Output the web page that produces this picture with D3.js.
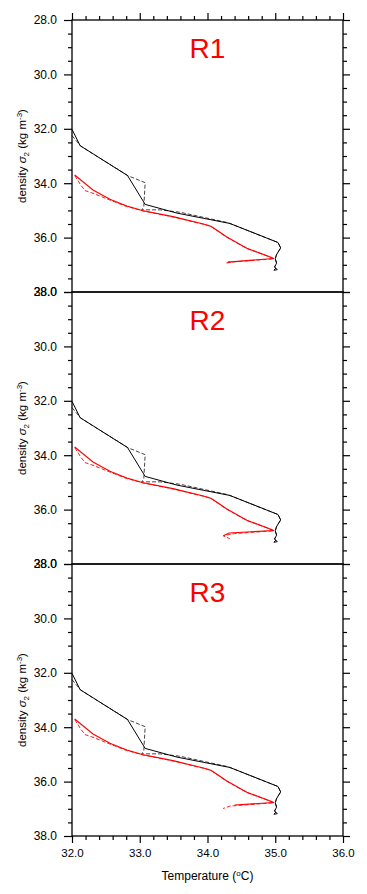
<!DOCTYPE html>
<html>
<meta charset="UTF-8">
<style>
body { margin: 0; background: #fff; }
text { font-family: "Liberation Sans", Arial, Helvetica, sans-serif; fill: #000; }
.axis path { stroke: none; }
.axis line { stroke: #000; stroke-width: 1.2px; }
.axis text { font-size: 11.5px; }
.yaxis text { font-size: 12px; }
.frame { fill: none; stroke: #000; stroke-width: 1.3px; }
.title { fill: #ff0000; font-size: 28px; }
</style>
<svg width="367" height="894"></svg>
<script src="https://d3js.org/d3.v7.min.js"></script>
<script>
//	panel names
var panels = ["R1", "R2", "R3"];

//	tick values
var xTicks = [32, 33, 34, 35, 36];
var yTicks = [28, 30, 32, 34, 36, 38];

//	black solid profile (temperature, density)
var blackSolidT = [32.00, 32.12, 32.82, 33.08, 33.55, 34.33, 35.04, 35.08, 35.02, 35.00, 35.02, 34.99, 35.03, 34.98, 35.01];
var blackSolidD = [32.02, 32.62, 33.72, 34.78, 35.10, 35.48, 36.18, 36.38, 36.62, 36.78, 36.94, 37.08, 37.18, 37.20, 37.12];

//	black dashed profile
var blackDashT = [32.00, 32.13, 32.83, 33.08, 33.06, 33.03, 33.30, 33.60, 34.30, 35.04, 35.08, 35.02, 35.00, 35.02, 34.99, 35.02];
var blackDashD = [32.25, 32.64, 33.73, 33.98, 34.85, 34.98, 34.98, 35.07, 35.45, 36.18, 36.38, 36.62, 36.78, 36.94, 37.08, 37.18];

//	red solid profile (upper part, common to all panels)
var redSolidT = [32.04, 32.31, 32.56, 32.81, 33.05, 33.49, 33.94, 34.05, 34.15, 34.28, 34.58, 34.87, 34.98];
var redSolidD = [33.70, 34.25, 34.59, 34.84, 35.01, 35.23, 35.50, 35.58, 35.75, 35.97, 36.39, 36.66, 36.77];

//	red dashed profile (upper part)
var redDashT = [32.04, 32.13, 32.19, 32.31, 32.56, 32.81, 33.05, 33.49, 33.94, 34.05, 34.15, 34.28, 34.58, 34.87, 34.98];
var redDashD = [33.72, 34.07, 34.27, 34.37, 34.62, 34.86, 35.02, 35.24, 35.51, 35.59, 35.76, 35.98, 36.40, 36.67, 36.78];

//	red tails, one per panel
var redSolidTailT = [[34.30], [34.32, 34.24], [34.40]];
var redSolidTailD = [[36.90], [36.86, 36.95], [36.86]];
var redDashTailT = [[34.40, 34.27, 34.33], [34.40, 34.23, 34.33], [34.33, 34.23]];
var redDashTailD = [[36.89, 36.94, 36.88], [36.88, 36.96, 37.07], [36.90, 36.99]];

var svg = d3.select("svg");

var left = 72, right = 343, top0 = 20, panelH = 272;

var x = d3.scaleLinear().domain([32, 36]).range([left, right]);

function pts(ts, ds) {
	return ts.map(function(t, i) { return [t, ds[i]]; });
}

panels.forEach(function(name, p) {
	var top = top0 + p * panelH;
	var y = d3.scaleLinear().domain([28, 38]).range([top, top + panelH]);
	var g = svg.append("g");

	var line = d3.line()
		.x(function(d) { return x(d[0]); })
		.y(function(d) { return y(d[1]); });

	//	curves
	g.append("path")
		.attr("d", line(pts(blackDashT, blackDashD)))
		.attr("fill", "none").attr("stroke", "#444").attr("stroke-width", 1)
		.attr("stroke-dasharray", "4,2");
	g.append("path")
		.attr("d", line(pts(blackSolidT, blackSolidD)))
		.attr("fill", "none").attr("stroke", "#000").attr("stroke-width", 1);
	g.append("path")
		.attr("d", line(pts(redDashT.concat(redDashTailT[p]), redDashD.concat(redDashTailD[p]))))
		.attr("fill", "none").attr("stroke", "#ff2020").attr("stroke-width", 1)
		.attr("stroke-dasharray", "4,2");
	g.append("path")
		.attr("d", line(pts(redSolidT.concat(redSolidTailT[p]), redSolidD.concat(redSolidTailD[p]))))
		.attr("fill", "none").attr("stroke", "#ff0000").attr("stroke-width", 1.1);

	//	frame
	g.append("rect").attr("class", "frame")
		.attr("x", left).attr("y", top)
		.attr("width", right - left).attr("height", panelH);

	//	y axes: major + minor, left and right
	var yMinor = d3.range(28, 38.01, 0.5).filter(function(v) { return v % 2 !== 0; });
	g.append("g").attr("class", "axis yaxis")
		.attr("transform", "translate(" + left + ",0)")
		.call(d3.axisLeft(y).tickValues(yTicks).tickSize(8).tickPadding(7).tickFormat(d3.format(".1f")));
	g.append("g").attr("class", "axis")
		.attr("transform", "translate(" + left + ",0)")
		.call(d3.axisLeft(y).tickValues(yMinor).tickSize(4).tickFormat(""));
	g.append("g").attr("class", "axis")
		.attr("transform", "translate(" + right + ",0)")
		.call(d3.axisRight(y).tickValues(yTicks).tickSize(7).tickFormat(""));
	g.append("g").attr("class", "axis")
		.attr("transform", "translate(" + right + ",0)")
		.call(d3.axisRight(y).tickValues(yMinor).tickSize(4).tickFormat(""));

	var xMinor = d3.range(32, 36.01, 0.2).filter(function(v) { return Math.abs(v - Math.round(v)) > 0.01; });

	//	top ticks on first panel only
	if (p === 0) {
		g.append("g").attr("class", "axis")
			.attr("transform", "translate(0," + top + ")")
			.call(d3.axisTop(x).tickValues(xTicks).tickSize(7).tickFormat(""));
		g.append("g").attr("class", "axis")
			.attr("transform", "translate(0," + top + ")")
			.call(d3.axisTop(x).tickValues(xMinor).tickSize(4).tickFormat(""));
	}

	//	bottom axis on last panel only
	if (p === panels.length - 1) {
		g.append("g").attr("class", "axis")
			.attr("transform", "translate(0," + (top + panelH) + ")")
			.call(d3.axisBottom(x).tickValues(xTicks).tickSize(7).tickPadding(6).tickFormat(d3.format(".1f")));
		g.append("g").attr("class", "axis")
			.attr("transform", "translate(0," + (top + panelH) + ")")
			.call(d3.axisBottom(x).tickValues(xMinor).tickSize(4).tickFormat(""));

		var xl = g.append("text")
			.attr("x", (left + right) / 2).attr("y", top + panelH + 44)
			.attr("text-anchor", "middle").style("font-size", "12px");
		xl.append("tspan").text("Temperature (");
		xl.append("tspan").attr("dy", -4).style("font-size", "8px").text("o");
		xl.append("tspan").attr("dy", 4).text("C)");
	}

	//	title
	g.append("text").attr("class", "title")
		.attr("x", (left + right) / 2).attr("y", top + 38)
		.attr("text-anchor", "middle").text(name);

	//	y label
	var yl = g.append("text")
		.attr("transform", "translate(26," + (top + panelH / 2) + ") rotate(-90)")
		.attr("text-anchor", "middle").style("font-size", "11.5px");
	yl.append("tspan").text("density ");
	yl.append("tspan").style("font-style", "italic").text("\u03c3");
	yl.append("tspan").attr("dy", 3).style("font-size", "8px").text("2");
	yl.append("tspan").attr("dy", -3).text(" (kg m");
	yl.append("tspan").attr("dy", -4).style("font-size", "8px").text("-3");
	yl.append("tspan").attr("dy", 4).text(")");
});
</script>
</html>
